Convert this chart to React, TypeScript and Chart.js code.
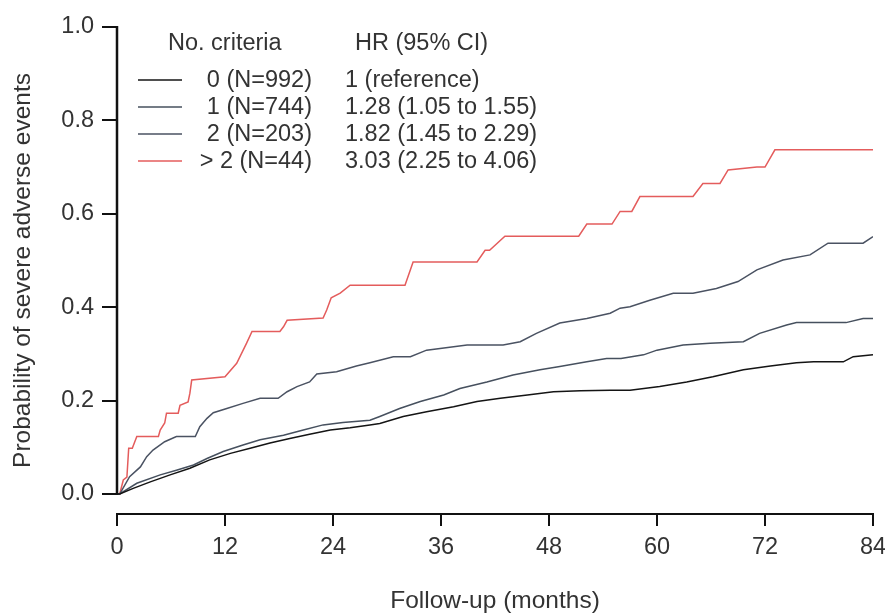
import { useEffect, useRef } from "react";
import { Chart, registerables } from "chart.js";
Chart.register(...registerables);

// ---- data ----
const xTickValues = [0, 12, 24, 36, 48, 60, 72, 84];
const yTickValues = [0, 0.2, 0.4, 0.6, 0.8, 1.0];
const seriesNames = ["0 (N=992)", "1 (N=744)", "2 (N=203)", "> 2 (N=44)"];
const hrLabels = ["1 (reference)", "1.28 (1.05 to 1.55)", "1.82 (1.45 to 2.29)", "3.03 (2.25 to 4.06)"];
const legendHeaders = ["No. criteria", "HR (95% CI)"];
const xTitle = "Follow-up (months)";
const yTitle = "Probability of severe adverse events";

const months0 = [0, 0.3, 1.8, 3.7, 5.9, 8.1, 10.3, 12.6, 14.8, 17, 19.2, 21.4, 23.7, 25.9, 28.1, 29.2, 31.8, 34.4, 37.4, 40, 42.6, 45.6, 48.5, 51.5, 54.8, 57, 60.3, 63.3, 66.2, 69.6, 72.6, 75.5, 77.4, 80.7, 81.8, 84];
const prob0 = [0, 0, 0.012, 0.026, 0.041, 0.055, 0.073, 0.087, 0.098, 0.109, 0.119, 0.128, 0.137, 0.142, 0.148, 0.151, 0.166, 0.176, 0.187, 0.198, 0.205, 0.212, 0.219, 0.221, 0.222, 0.222, 0.23, 0.24, 0.251, 0.266, 0.274, 0.281, 0.283, 0.283, 0.294, 0.298];

const months1 = [0, 0.3, 2.2, 4.8, 6.6, 8.5, 10, 11.8, 14, 15.9, 18.5, 20.7, 22.9, 25.1, 28.1, 29.2, 31.4, 33.7, 36.3, 38.1, 41.1, 44, 47, 49.2, 52.2, 54.4, 56, 58.5, 60, 62.9, 65.9, 69.6, 71.4, 74.4, 75.5, 81, 82.9, 84];
const prob1 = [0, 0, 0.023, 0.041, 0.051, 0.062, 0.076, 0.091, 0.105, 0.116, 0.126, 0.137, 0.148, 0.153, 0.158, 0.166, 0.183, 0.198, 0.212, 0.226, 0.24, 0.255, 0.266, 0.273, 0.283, 0.29, 0.29, 0.298, 0.308, 0.319, 0.323, 0.326, 0.344, 0.362, 0.367, 0.367, 0.376, 0.376];

const months2 = [0, 0.3, 1.4, 2.6, 3.3, 4, 5.3, 6.6, 8.7, 9.2, 10, 10.7, 12.2, 14, 15.9, 17.9, 18.9, 20, 21.4, 22.2, 24.4, 26.6, 28.1, 30.7, 32.6, 34.4, 38.9, 42.9, 44.8, 46.6, 49.2, 52.2, 54.8, 55.9, 57, 59.2, 61.8, 64, 66.6, 69, 71.1, 74, 77, 79, 82.9, 84];
const prob2 = [0, 0, 0.037, 0.058, 0.08, 0.094, 0.112, 0.123, 0.123, 0.144, 0.162, 0.174, 0.183, 0.194, 0.205, 0.205, 0.219, 0.23, 0.24, 0.257, 0.262, 0.274, 0.281, 0.294, 0.294, 0.308, 0.319, 0.319, 0.326, 0.344, 0.366, 0.376, 0.387, 0.398, 0.401, 0.415, 0.43, 0.43, 0.44, 0.455, 0.48, 0.501, 0.512, 0.537, 0.537, 0.551];

const months3 = [0, 0.3, 0.7, 1.1, 1.3, 1.7, 2.2, 4.6, 4.8, 5.3, 5.5, 6.8, 7.0, 7.9, 8.1, 8.3, 12, 13.3, 14.4, 15, 18.1, 18.5, 18.9, 22.9, 23.3, 23.8, 24.8, 25.9, 32, 32.9, 40, 40.9, 41.4, 43.1, 51.3, 52.2, 55, 55.9, 57.2, 58.1, 64, 65.1, 67, 67.9, 71.1, 72, 73.1, 84];
const prob3 = [0, 0, 0.03, 0.036, 0.098, 0.098, 0.123, 0.123, 0.137, 0.152, 0.173, 0.173, 0.19, 0.197, 0.216, 0.244, 0.251, 0.28, 0.323, 0.348, 0.348, 0.358, 0.372, 0.377, 0.394, 0.42, 0.43, 0.447, 0.447, 0.497, 0.497, 0.522, 0.522, 0.552, 0.552, 0.578, 0.578, 0.605, 0.605, 0.637, 0.637, 0.665, 0.665, 0.694, 0.7, 0.7, 0.737, 0.737];

const seriesMonths = [months0, months1, months2, months3];
const seriesProbs = [prob0, prob1, prob2, prob3];
const colors = ["#141414", "#46505e", "#4a5262", "#e45c5c"];

const FONT = '"Liberation Sans", Arial, sans-serif';
const TEXT = "#333333";

export default function App() {
  const ref = useRef<HTMLCanvasElement | null>(null);
  useEffect(() => {
    document.body.style.margin = "0";
    const canvas = ref.current!;
    const yMin = -20 / 467;

    const legendPlugin = {
      id: "kmLegend",
      afterDraw(chart: any) {
        const ctx = chart.ctx;
        ctx.save();
        ctx.font = `23.5px ${FONT}`;
        ctx.fillStyle = TEXT;
        ctx.textBaseline = "middle";
        ctx.textAlign = "left";
        ctx.fillText(legendHeaders[0], 168, 44);
        ctx.fillText(legendHeaders[1], 355, 44);
        seriesNames.forEach((name, i) => {
          const y = 80 + i * 27;
          ctx.strokeStyle = colors[i];
          ctx.lineWidth = 1.5;
          ctx.beginPath();
          ctx.moveTo(138, y);
          ctx.lineTo(182, y);
          ctx.stroke();
          ctx.textAlign = "right";
          ctx.fillText(name, 312, y + 1);
          ctx.textAlign = "left";
          ctx.fillText(hrLabels[i], 345, y + 1);
        });
        ctx.restore();
      },
    };

    const yAxisPlugin = {
      id: "yAxisLine",
      afterDraw(chart: any) {
        const ctx = chart.ctx;
        const ys = chart.scales.y;
        const x = chart.chartArea.left;
        ctx.save();
        ctx.strokeStyle = "#111";
        ctx.lineWidth = 2.5;
        ctx.beginPath();
        ctx.moveTo(x, ys.getPixelForValue(yTickValues[yTickValues.length - 1]) - 1);
        ctx.lineTo(x, ys.getPixelForValue(yTickValues[0]) + 1);
        ctx.stroke();
        ctx.restore();
      },
    };

    const chart = new Chart(canvas, {
      type: "line",
      data: {
        datasets: seriesNames.map((name, i) => ({
          label: name,
          data: seriesMonths[i].map((m, j) => ({ x: m, y: seriesProbs[i][j] })),
          borderColor: colors[i],
          borderWidth: 1.5,
          pointRadius: 0,
          tension: 0,
          fill: false,
        })),
      },
      options: {
        animation: false,
        responsive: false,
        devicePixelRatio: 1,
        layout: { padding: { left: 0, right: 12, top: 27, bottom: 0 } },
        plugins: { legend: { display: false }, tooltip: { enabled: false } },
        scales: {
          x: {
            type: "linear",
            min: 0,
            max: 84,
            afterBuildTicks: (s: any) => {
              s.ticks = xTickValues.map((v) => ({ value: v }));
            },
            afterFit: (s: any) => {
              s.height = 102;
              s.paddingLeft = 0;
              s.paddingRight = 0;
            },
            grid: {
              drawOnChartArea: false,
              drawTicks: true,
              tickLength: 12,
              color: "#111",
              lineWidth: 2,
            },
            border: { display: true, color: "#111", width: 2 },
            ticks: {
              color: TEXT,
              font: { family: FONT, size: 23.5 },
              padding: 7,
              maxRotation: 0,
              autoSkip: false,
            },
            title: {
              display: true,
              text: xTitle,
              color: TEXT,
              font: { family: FONT, size: 24.5 },
              padding: { top: 0, bottom: 0 },
            },
          },
          y: {
            type: "linear",
            min: yMin,
            max: 1,
            afterBuildTicks: (s: any) => {
              s.ticks = yTickValues.map((v) => ({ value: v }));
            },
            afterFit: (s: any) => {
              s.width = 117;
              s.paddingTop = 0;
              s.paddingBottom = 0;
            },
            grid: {
              drawOnChartArea: false,
              drawTicks: true,
              tickLength: 15,
              color: "#111",
              lineWidth: 2,
            },
            border: { display: false },
            ticks: {
              color: TEXT,
              font: { family: FONT, size: 23.5 },
              padding: 8,
              autoSkip: false,
              callback: (v: any) => Number(v).toFixed(1),
            },
            title: {
              display: true,
              text: yTitle,
              color: TEXT,
              font: { family: FONT, size: 24.5 },
              padding: { top: 9, bottom: 0 },
            },
          },
        },
      },
      plugins: [legendPlugin, yAxisPlugin],
    });
    return () => chart.destroy();
  }, []);
  return (
    <div style={{ width: 885, height: 616, background: "#fff" }}>
      <canvas ref={ref} width={885} height={616} style={{ display: "block" }} />
    </div>
  );
}
